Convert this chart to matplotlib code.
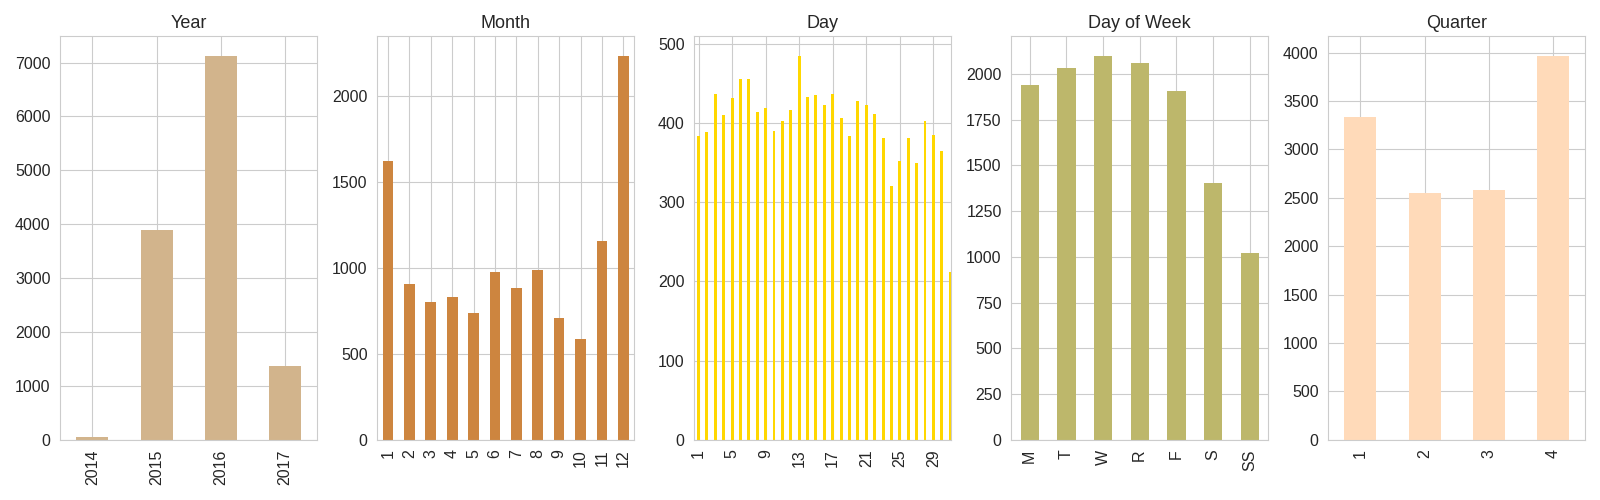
import matplotlib
matplotlib.use("Agg")
import matplotlib.pyplot as plt
import seaborn as sns
import numpy as np

sns.set_style("whitegrid")
plt.rcParams['font.family'] = ['Liberation Sans', 'DejaVu Sans']

year_labels = ['2014', '2015', '2016', '2017']
year_vals = [60, 3900, 7130, 1370]
month_labels = [str(i) for i in range(1, 13)]
month_vals = [1620, 905, 800, 830, 740, 975, 880, 985, 710, 585, 1155, 2235]
day_labels = [str(i) for i in range(1, 32)]
day_vals = [383, 388, 436, 410, 431, 455, 455, 414, 419, 390, 403, 416, 485, 433,
            435, 423, 436, 406, 383, 427, 422, 411, 381, 320, 352, 381, 349, 403,
            385, 365, 212]
dow_labels = ['M', 'T', 'W', 'R', 'F', 'S', 'SS']
dow_vals = [1940, 2030, 2100, 2060, 1905, 1405, 1020]
q_labels = ['1', '2', '3', '4']
q_vals = [3340, 2550, 2580, 3970]

panels = [
  ('Year', year_labels, year_vals, 'tan', 0.5),
  ('Month', month_labels, month_vals, 'peru', 0.5),
  ('Day', day_labels, day_vals, 'gold', 0.35),
  ('Day of Week', dow_labels, dow_vals, 'darkkhaki', 0.5),
  ('Quarter', q_labels, q_vals, 'peachpuff', 0.5),
]

fig, axes = plt.subplots(1, 5, figsize=(16, 5), dpi=100)
for ax, (title, labels, vals, color, w) in zip(axes, panels):
  x = np.arange(len(vals))
  ax.bar(x, vals, width=w, color=color, linewidth=0)
  ax.set_title(title, fontsize=13)
  if title == 'Day':
    ax.set_xticks(x[::4])
    ax.set_xticklabels(labels[::4], rotation=90)
    ax.set_xlim(-0.5, 30.1)
  else:
    ax.set_xticks(x)
    ax.set_xticklabels(labels, rotation=90)
    ax.set_xlim(-0.5, len(vals) - 0.5)
  ax.tick_params(labelsize=11.5)

plt.tight_layout()
plt.savefig('out.png')
